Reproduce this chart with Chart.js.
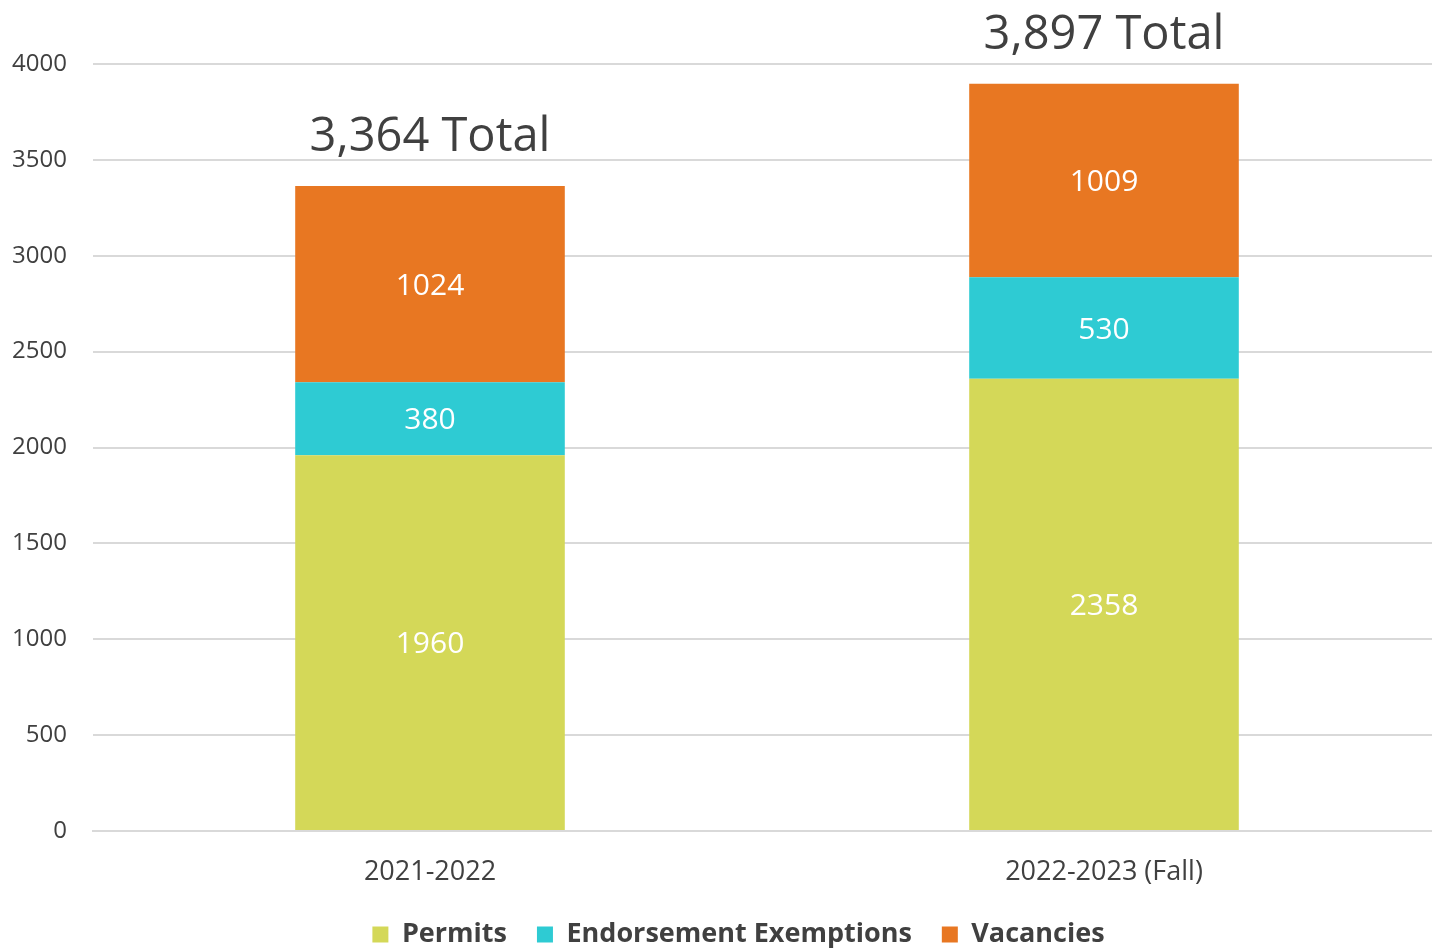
<!DOCTYPE html>
<html>
<head>
<meta charset="utf-8">
<script src="https://cdn.jsdelivr.net/npm/chart.js@4"></script>
<style>
  html, body { margin: 0; padding: 0; background: #fff; overflow: hidden; }
  #wrap { width: 1441px; height: 950px; position: relative; }
</style>
</head>
<body>
<div id="wrap"><canvas id="chart"></canvas></div>
<script>
// data
const years = ['2021-2022', '2022-2023 (Fall)'];
const permits = [1960, 2358];
const exemptions = [380, 530];
const vacancies = [1024, 1009];
const yTicks = [0, 500, 1000, 1500, 2000, 2500, 3000, 3500, 4000];

const textColor = '#404040';
const gridColor = '#d9d9d9';

// white value labels in the middle of each segment + total over each bar
const barLabels = {
    id: 'barLabels',
    afterDatasetsDraw(chart) {
        const ctx = chart.ctx;
        ctx.save();
        ctx.textAlign = 'center';
        ctx.textBaseline = 'middle';
        ctx.fillStyle = '#ffffff';
        ctx.font = '30px "Open Sans"';
        chart.data.datasets.forEach((ds, i) => {
            const meta = chart.getDatasetMeta(i);
            meta.data.forEach((bar, j) => {
                const mid = (bar.y + bar.base) / 2;
                ctx.fillText(String(ds.data[j]), bar.x, mid + 2);
            });
        });
        // totals
        const last = chart.getDatasetMeta(chart.data.datasets.length - 1);
        ctx.fillStyle = textColor;
        ctx.font = '47px "Open Sans"';
        ctx.textBaseline = 'alphabetic';
        last.data.forEach((bar, j) => {
            const total = permits[j] + exemptions[j] + vacancies[j];
            ctx.fillText(total.toLocaleString('en-US') + ' Total', bar.x, bar.y - 35);
        });
        ctx.restore();
    }
};

// legend sits a bit right of centre in the original
const legendShift = {
    id: 'legendShift',
    afterLayout(chart) {
        if (chart.legend) {
            chart.legend.left += 18;
            chart.legend.right += 18;
        }
    }
};

new Chart(document.getElementById('chart'), {
    type: 'bar',
    data: {
        labels: years,
        datasets: [
            { label: 'Permits', data: permits, backgroundColor: '#d4d858' },
            { label: 'Endorsement Exemptions', data: exemptions, backgroundColor: '#2ecbd3' },
            { label: 'Vacancies', data: vacancies, backgroundColor: '#e87722' }
        ]
    },
    options: {
        responsive: true,
        maintainAspectRatio: false,
        animation: false,
        layout: { padding: { top: 64, left: 0, right: 0, bottom: -8 } },
        datasets: { bar: { categoryPercentage: 1, barPercentage: 0.4 } },
        scales: {
            x: {
                stacked: true,
                afterFit(axis) { axis.height = 60; },
                grid: { display: false, drawTicks: false },
                border: { color: gridColor, width: 2 },
                ticks: { color: textColor, font: { family: 'Open Sans', size: 27 }, padding: 25 }
            },
            y: {
                stacked: true,
                min: 0,
                max: 4000,
                afterBuildTicks(axis) { axis.ticks = yTicks.map(v => ({ value: v })); },
                afterFit(axis) { axis.width = 93; },
                grid: { color: gridColor, lineWidth: 2, drawTicks: false },
                border: { display: false },
                ticks: {
                    color: textColor,
                    font: { family: 'Open Sans', size: 24 },
                    padding: 26,
                    callback: v => String(v)
                }
            }
        },
        plugins: {
            legend: {
                position: 'bottom',
                labels: {
                    color: textColor,
                    font: { family: 'Open Sans', size: 27, weight: 'bold' },
                    boxWidth: 16,
                    boxHeight: 16,
                    padding: 30
                }
            },
            tooltip: { enabled: false }
        }
    },
    plugins: [barLabels, legendShift]
});
</script>
</body>
</html>
